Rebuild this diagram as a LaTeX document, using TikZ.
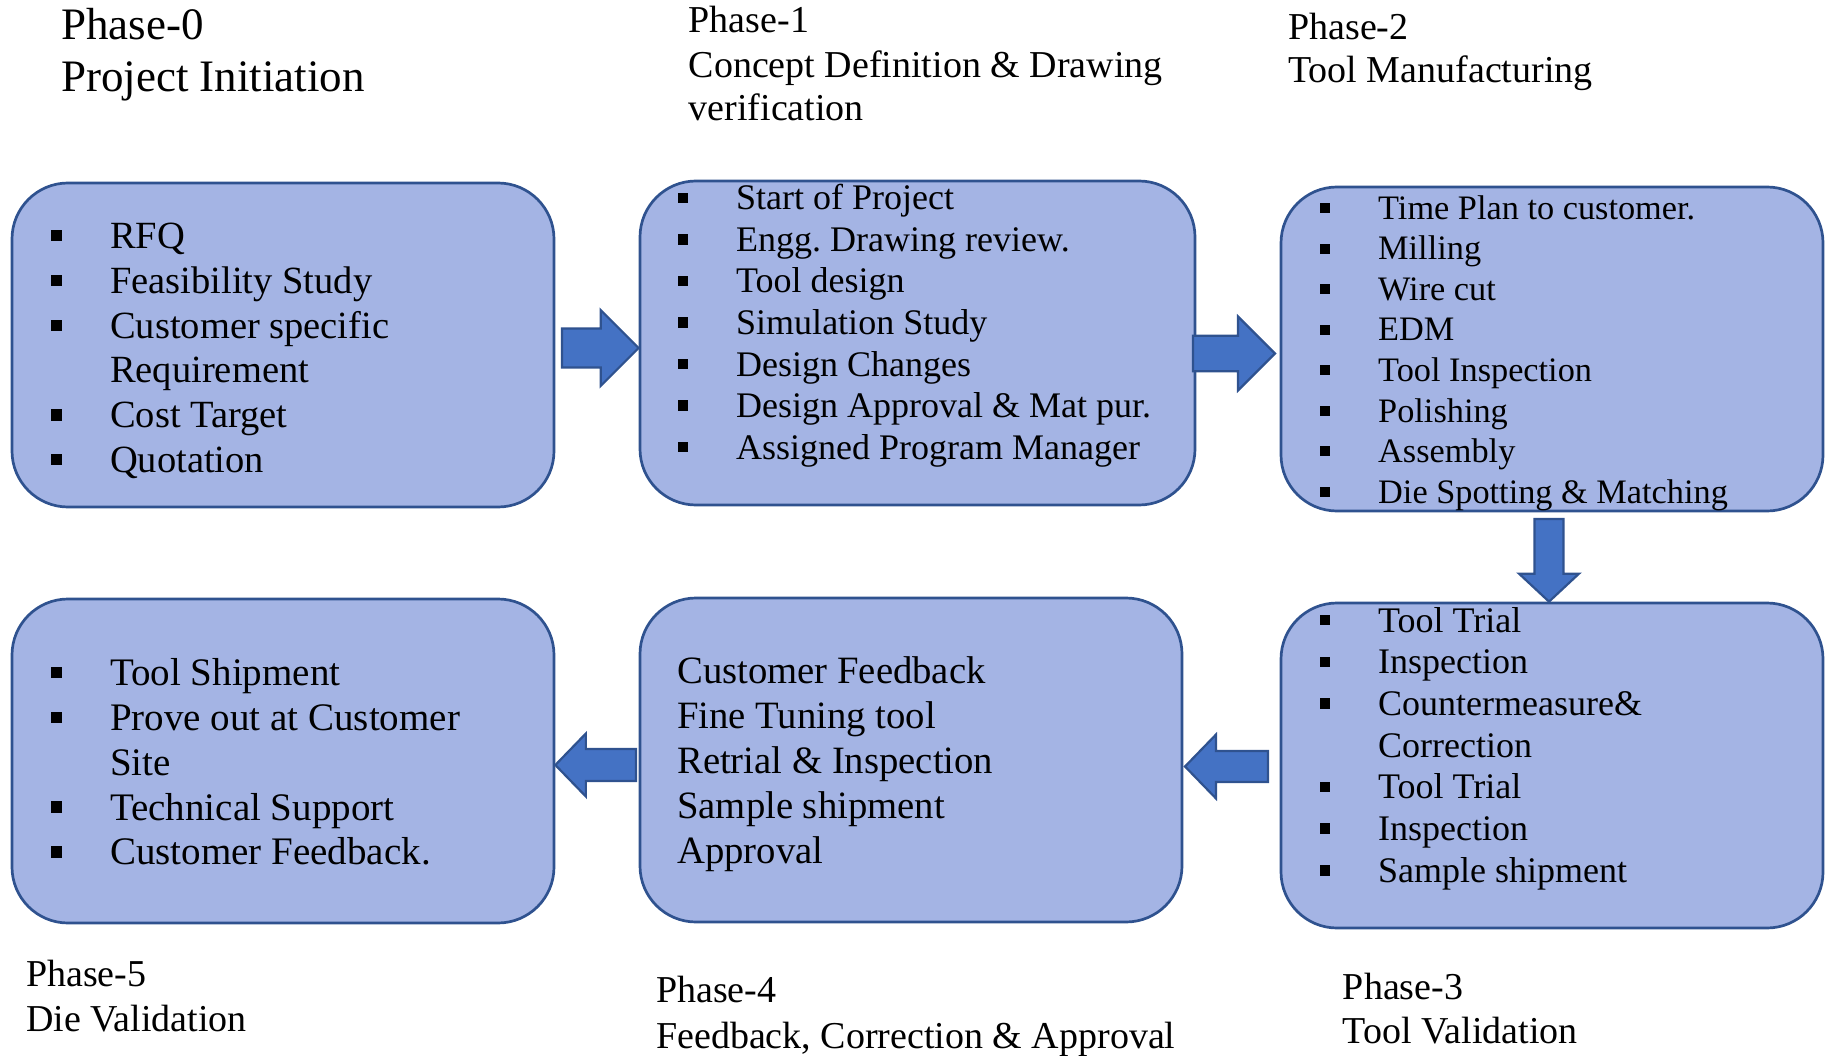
\documentclass[tikz,border=0pt]{standalone}
\usepackage{fontspec}
\setmainfont{Liberation Serif}
\usetikzlibrary{calc}
\frenchspacing

\definecolor{boxfill}{RGB}{164,180,228}
\definecolor{boxline}{RGB}{47,82,143}
\definecolor{arrowfill}{RGB}{68,114,196}

% square bullet hung to the left of the item text
\newcommand{\bul}{\makebox[0pt][r]{\raisebox{0.185em}{\rule{0.29em}{0.29em}}\hspace{48pt}}}

\tikzset{
  phasebox/.style={draw=boxline, fill=boxfill, line width=2.7pt, rounded corners=56pt,
    inner sep=0pt, minimum width=542pt, minimum height=324pt},
  item/.style={anchor=base west, inner sep=0pt, text=black},
  blockarrow/.style n args={3}{draw=boxline, fill=arrowfill, line width=2.2pt,
    to path={($(\tikztostart)!#1!90:(\tikztotarget)$)
      -- ($(\tikztotarget)!#3!(\tikztostart)!#1!-90:(\tikztostart)$)
      -- ($(\tikztotarget)!#3!(\tikztostart)!#2!-90:(\tikztostart)$)
      -- (\tikztotarget)
      -- ($(\tikztotarget)!#3!(\tikztostart)!#2!90:(\tikztostart)$)
      -- ($(\tikztotarget)!#3!(\tikztostart)!#1!90:(\tikztostart)$)
      -- ($(\tikztostart)!#1!-90:(\tikztotarget)$) -- cycle}},
}

\begin{document}
\begin{tikzpicture}[x=1pt, y=-1pt]
  \useasboundingbox (0,0) rectangle (1830,1056);

  % phase boxes
  \node[phasebox] (b0) at (283,345) {};
  \node[phasebox, minimum width=555pt] (b1) at (917.5,343) {};
  \node[phasebox] (b2) at (1552,349) {};
  \node[phasebox, minimum height=325pt] (b3) at (1552,765.5) {};
  \node[phasebox] (b4) at (911,760) {};
  \node[phasebox] (b5) at (283,761) {};

  % arrows between the phases
  \coordinate (t01) at (562,348);
  \coordinate (h01) at (b1.west |- t01);
  \coordinate (t12) at (1193,353.5);
  \coordinate (h12) at (1275,353.5);
  \coordinate (t23) at (1549,519);
  \coordinate (h23) at (b3.north -| t23);
  \coordinate (t34) at (1268,766.5);
  \coordinate (h34) at (1185,766.5);
  \coordinate (t45) at (636,765);
  \coordinate (h45) at (b5.east |- t45);
  \draw[blockarrow={19.5pt}{38pt}{38pt}] (t01) to (h01);
  \draw[blockarrow={17.7pt}{37pt}{37pt}] (t12) to (h12);
  \draw[blockarrow={14.5pt}{30pt}{28pt}] (t23) to (h23);
  \draw[blockarrow={15.5pt}{32pt}{31pt}] (t34) to (h34);
  \draw[blockarrow={16pt}{31.5pt}{30.5pt}] (t45) to (h45);

  % box contents
  \foreach \txt [count=\i from 0] in {\bul RFQ, \bul Feasibility Study,
      \bul Customer specific, Requirement, \bul Cost Target, \bul Quotation}
    \node[item, font=\fontsize{38.5}{46}\selectfont] (p0-\i) at (110,{248.5+44.8*\i}) {\txt};
  \foreach \txt [count=\i from 0] in {\bul Start of Project, \bul Engg. Drawing review.,
      \bul Tool design, \bul Simulation Study, \bul Design Changes,
      \bul Design Approval \& Mat pur., \bul Assigned Program Manager}
    \node[item, font=\fontsize{36}{43}\selectfont] (p1-\i) at (736,{210+41.5*\i}) {\txt};
  \foreach \txt [count=\i from 0] in {\bul Time Plan to customer., \bul Milling, \bul Wire cut,
      \bul EDM, \bul Tool Inspection, \bul Polishing, \bul Assembly,
      \bul Die Spotting \& Matching}
    \node[item, font=\fontsize{34.3}{41}\selectfont] (p2-\i) at (1378,{219.5+40.5*\i}) {\txt};
  \foreach \txt [count=\i from 0] in {\bul Tool Trial, \bul Inspection, \bul Countermeasure\&,
      Correction, \bul Tool Trial, \bul Inspection, \bul Sample shipment}
    \node[item, font=\fontsize{36}{43}\selectfont] (p3-\i) at (1378,{632+41.7*\i}) {\txt};
  \foreach \txt [count=\i from 0] in {Customer Feedback, Fine Tuning tool,
      Retrial \& Inspection, Sample shipment, Approval}
    \node[item, font=\fontsize{38.7}{46}\selectfont] (p4-\i) at (677,{683.5+44.9*\i}) {\txt};
  \foreach \txt [count=\i from 0] in {\bul Tool Shipment, \bul Prove out at Customer,
      Site, \bul Technical Support, \bul Customer Feedback.}
    \node[item, font=\fontsize{39}{46}\selectfont] (p5-\i) at (110,{685.6+44.8*\i}) {\txt};

  % phase titles
  \node[item, font=\fontsize{45}{52}\selectfont] (ph0a) at (61,39.7) {Phase-0};
  \node[item, font=\fontsize{45}{52}\selectfont] (ph0b) at (61,91.6) {Project Initiation};
  \node[item, font=\fontsize{38}{45}\selectfont] (ph1a) at (688.5,32.7) {Phase-1};
  \node[item, font=\fontsize{38}{45}\selectfont] (ph1b) at (688.5,77.4) {Concept Definition \& Drawing};
  \node[item, font=\fontsize{38}{45}\selectfont] (ph1c) at (688.5,121) {verification};
  \node[item, font=\fontsize{38}{45}\selectfont] (ph2a) at (1288,39.7) {Phase-2};
  \node[item, font=\fontsize{38}{45}\selectfont] (ph2b) at (1288,82.5) {Tool Manufacturing};
  \node[item, font=\fontsize{38}{45}\selectfont] (ph3a) at (1342.7,999.4) {Phase-3};
  \node[item, font=\fontsize{38}{45}\selectfont] (ph3b) at (1342.7,1043.8) {Tool Validation};
  \node[item, font=\fontsize{38}{45}\selectfont] (ph4a) at (656,1002.8) {Phase-4};
  \node[item, font=\fontsize{38}{45}\selectfont] (ph4b) at (656,1048) {Feedback, Correction \& Approval};
  \node[item, font=\fontsize{38}{45}\selectfont] (ph5a) at (26,986.6) {Phase-5};
  \node[item, font=\fontsize{38}{45}\selectfont] (ph5b) at (26,1031.4) {Die Validation};
\end{tikzpicture}
\end{document}
